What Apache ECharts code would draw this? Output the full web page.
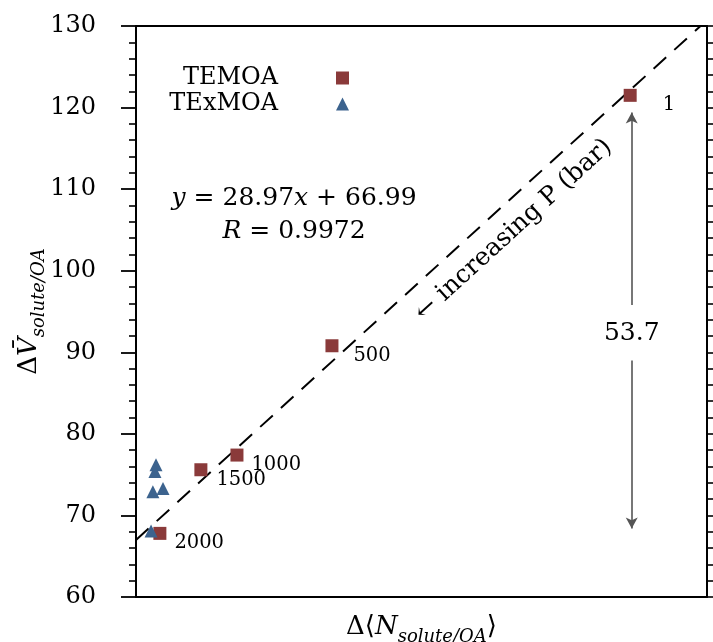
<!DOCTYPE html>
<html><head><meta charset="utf-8">
<script src="https://cdn.jsdelivr.net/npm/echarts@6/dist/echarts.min.js"></script>
<style>html,body{margin:0;padding:0;background:#fff}#c{width:713px;height:642px}</style>
</head><body><div id="c"></div>
<script>
// ---- data ----
const temoaX = [1.904, 0.755, 0.389, 0.250, 0.092];
const temoaY = [121.5, 90.8, 77.4, 75.6, 67.8];
const temoaLabels = ['1', '500', '1000', '1500', '2000'];
const texmoaX = [0.077, 0.073, 0.065, 0.104, 0.058];
const texmoaY = [76.2, 75.4, 72.9, 73.3, 68.1];
const fitSlope = 28.97;
const fitIntercept = 66.99;
const fitR = 0.9972;
const yMin = 60, yMax = 130, yStep = 10;
const xMin = 0, xMax = 2.2;
const deltaTop = 121.5, deltaBottom = 67.8; // span shown by arrow: 53.7

const FONT = 'DejaVu Serif';
const RED = '#8a3a3a';
const BLUE = '#3c638e';
const INK = '#000';

const labelDist = {'1': 26, '500': 15, '1000': 8, '1500': 9, '2000': 8};

const temoaData = temoaX.map((x, i) => ({
  value: [x, temoaY[i]],
  name: temoaLabels[i],
  label: {show: true, position: 'right', distance: labelDist[temoaLabels[i]], offset: [0, 10],
    formatter: temoaLabels[i], fontFamily: FONT, fontSize: 19.5, color: INK}
}));
const texmoaData = texmoaX.map((x, i) => [x, texmoaY[i]]);
const xTop = (yMax - fitIntercept) / fitSlope;
const fitData = [[xMin, fitIntercept], [xTop, yMax]];

const chart = echarts.init(document.getElementById('c'), null, {renderer: 'canvas'});
const arrowX = 1.91;
const subPad = [19, 0, 0, 0];
const option = {
  animation: false,
  backgroundColor: '#fff',
  grid: {left: 136, top: 26, right: 6, bottom: 45, containLabel: false, outerBoundsMode: 'none'},
  legend: {
    orient: 'vertical', left: 140, top: 66, align: 'right', padding: 0,
    itemWidth: 13, itemHeight: 13, itemGap: 2,
    textStyle: {fontFamily: FONT, fontSize: 24, color: INK, width: 138, align: 'right',
      padding: [0, 53, 0, 0], lineHeight: 24},
    data: [{name: 'TEMOA', icon: 'rect'}, {name: 'TExMOA', icon: 'triangle'}],
    selectedMode: false
  },
  xAxis: [
    {type: 'value', min: xMin, max: xMax, position: 'bottom',
      axisLine: {show: true, onZero: false, lineStyle: {color: '#000', width: 2}},
      axisTick: {show: false}, axisLabel: {show: false}, splitLine: {show: false},
      name: '{d|Δ⟨}{n|N}{s|solute/OA}{d|⟩}', nameLocation: 'middle', nameGap: 12,
      nameMoveOverlap: false,
      nameTextStyle: {fontFamily: FONT, color: INK, rich: {
        d: {fontFamily: FONT, fontSize: 26, color: INK},
        n: {fontFamily: FONT, fontSize: 26, fontStyle: 'italic', color: INK},
        s: {fontFamily: FONT, fontSize: 18, fontStyle: 'italic', color: INK, padding: subPad}
      }}},
    {type: 'value', min: xMin, max: xMax, position: 'top',
      axisLine: {show: true, onZero: false, lineStyle: {color: '#000', width: 2}},
      axisTick: {show: false}, axisLabel: {show: false}, splitLine: {show: false}}
  ],
  yAxis: [
    {type: 'value', min: yMin, max: yMax, interval: yStep, position: 'left',
      axisLine: {show: true, onZero: false, lineStyle: {color: '#000', width: 2}},
      axisTick: {show: true, length: 15, lineStyle: {color: '#000', width: 1.8}},
      minorTick: {show: true, splitNumber: 5, length: 7, lineStyle: {color: '#000', width: 1.6}},
      axisLabel: {fontFamily: FONT, fontSize: 24, color: INK, margin: 40},
      splitLine: {show: false},
      name: '{d|Δ}{v|V̄}{s|solute/OA}', nameLocation: 'middle', nameGap: 88,
      nameMoveOverlap: false,
      nameTextStyle: {fontFamily: FONT, color: INK, rich: {
        d: {fontFamily: FONT, fontSize: 26, color: INK},
        v: {fontFamily: FONT, fontSize: 26, fontStyle: 'italic', color: INK},
        s: {fontFamily: FONT, fontSize: 18, fontStyle: 'italic', color: INK, padding: subPad}
      }}},
    {type: 'value', min: yMin, max: yMax, interval: yStep, position: 'right',
      axisLine: {show: true, onZero: false, lineStyle: {color: '#000', width: 2}},
      axisTick: {show: true, length: 6, lineStyle: {color: '#000', width: 1.6}},
      minorTick: {show: true, splitNumber: 5, length: 6, lineStyle: {color: '#000', width: 1.6}},
      axisLabel: {show: false}, splitLine: {show: false}}
  ],
  series: [
    {type: 'line', name: 'fit', data: fitData, symbol: 'none', silent: true,
      lineStyle: {color: '#000', width: 2, type: [17, 11]}, z: 1,
      markLine: {silent: true, animation: false, label: {show: false},
        lineStyle: {color: '#555', width: 1.6, type: 'solid'}, symbolSize: [9, 11],
        data: [
          [{coord: [arrowX, deltaTop - 2.1], symbol: 'arrow'}, {coord: [arrowX, 95.8], symbol: 'none'}],
          [{coord: [arrowX, 89.0], symbol: 'none'}, {coord: [arrowX, deltaBottom + 0.6], symbol: 'arrow'}]
        ]}},
    {type: 'scatter', name: 'TEMOA', data: temoaData, symbol: 'rect', symbolSize: 13,
      itemStyle: {color: RED, opacity: 1}, z: 3},
    {type: 'scatter', name: 'TExMOA', data: texmoaData, symbol: 'triangle', symbolSize: 13,
      itemStyle: {color: BLUE, opacity: 1}, z: 3}
  ]
};
chart.setOption(option);

// annotations placed from data coordinates
const eqPos = chart.convertToPixel({gridIndex: 0}, [0.609, 106.8]);
const incPos = chart.convertToPixel({gridIndex: 0}, [1.455, 105.0]);
const dPos = chart.convertToPixel({gridIndex: 0}, [arrowX, 92.3]);
const p0 = chart.convertToPixel({gridIndex: 0}, fitData[0]);
const p1 = chart.convertToPixel({gridIndex: 0}, fitData[1]);
const ang = Math.atan2(p0[1] - p1[1], p1[0] - p0[0]);
const it = {fontFamily: FONT, fontSize: 25, fontStyle: 'italic', fill: INK};
chart.setOption({graphic: [
  {type: 'text', x: eqPos[0], y: eqPos[1], z: 10, style: {
    text: '{i|y} = 28.97{i|x} + 66.99\n{i|R} = ' + fitR.toFixed(4),
    fontFamily: FONT, fontSize: 25, fill: INK, align: 'center', verticalAlign: 'middle',
    lineHeight: 33, rich: {i: it}}},
  {type: 'text', x: incPos[0], y: incPos[1], rotation: ang, z: 10, style: {
    text: '← increasing P (bar)', fontFamily: FONT, fontSize: 25, fill: INK,
    align: 'center', verticalAlign: 'middle'}},
  {type: 'text', x: dPos[0], y: dPos[1], z: 10, style: {
    text: (deltaTop - deltaBottom).toFixed(1), fontFamily: FONT, fontSize: 25, fill: INK,
    align: 'center', verticalAlign: 'middle'}}
]});
</script></body></html>
